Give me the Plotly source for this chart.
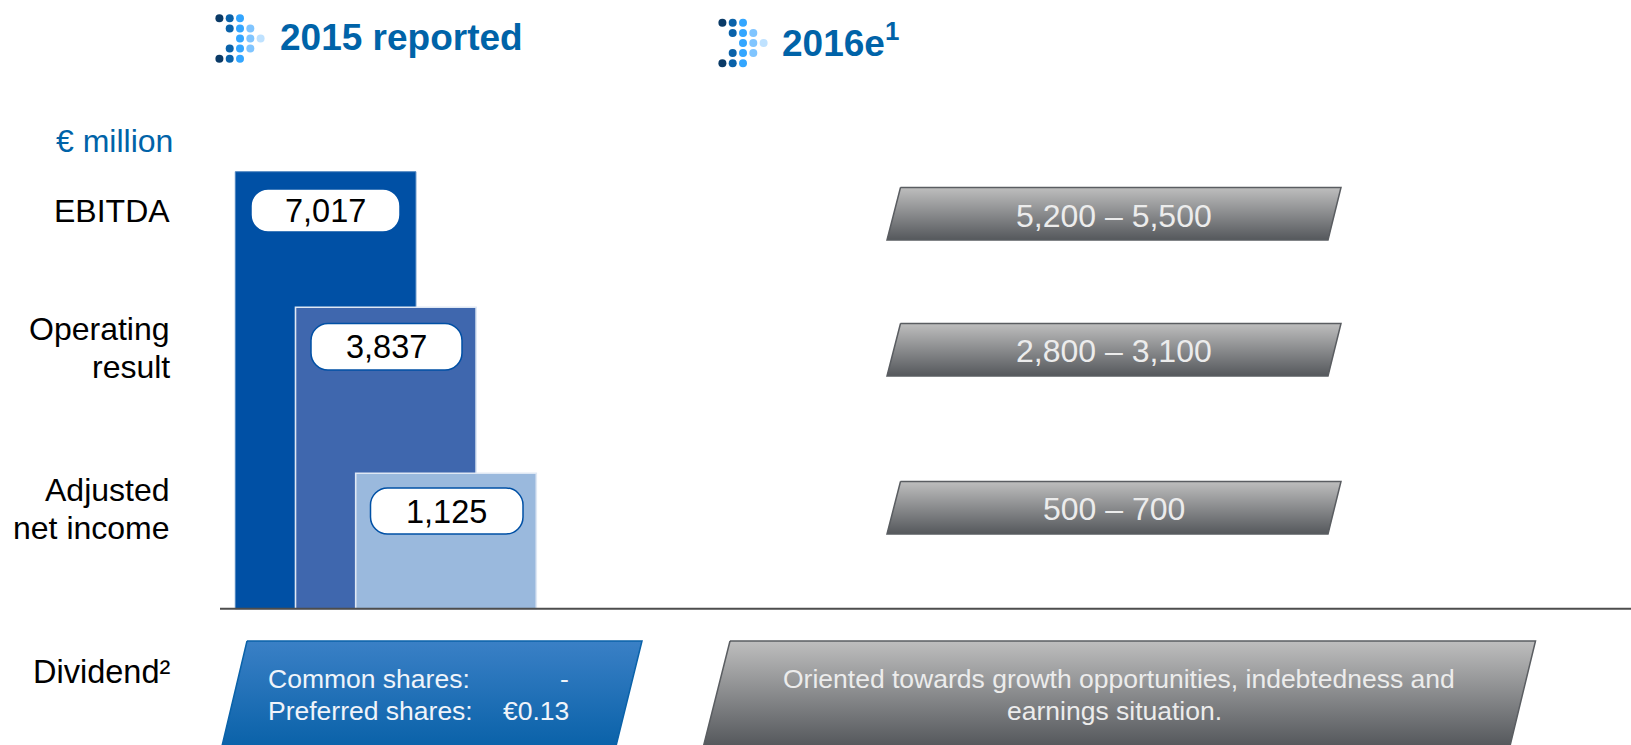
import plotly.graph_objects as go

W, H = 1631, 745

# ---- data ----
categories = ["EBITDA", "Operating result", "Adjusted net income"]
reported_labels = ["7,017", "3,837", "1,125"]
# drawn heights of the schematic (not to scale with the reported figures)
bar_heights = [437, 301.5, 135.5]
bar_colors = ["#0050a5", "#3f67ae", "#9ab9dd"]
outlook_labels = ["5,200 – 5,500", "2,800 – 3,100", "500 – 700"]
dividend_rows = ["Common shares:", "Preferred shares:"]
dividend_values = ["-", "€0.13"]
outlook_dividend = ["Oriented towards growth opportunities, indebtedness and", "earnings situation."]

BLUE = "#0063a8"
FONT = "Liberation Sans, Arial, sans-serif"

fig = go.Figure()

# bars on a category axis placed so they sit over the chart area
step = 60.2
base_px = 325.6
baseline_px = 608.7
fig.add_trace(go.Bar(
    x=categories[:1], y=bar_heights[:1], width=3.0, marker=dict(color=bar_colors[0], line=dict(color="#4f86c0", width=1)),
    xaxis="x2", yaxis="y2", showlegend=False, hoverinfo="skip"))
for i in (1, 2):
    fig.add_trace(go.Bar(
        x=[categories[i]], y=[bar_heights[i]], width=3.0,
        marker=dict(color=bar_colors[i], line=dict(color="#dfe8f4", width=1.6)),
        xaxis="x2", yaxis="y2", showlegend=False, hoverinfo="skip"))


def para(xs, ys, top, bottom, line):
    fig.add_trace(go.Scatter(
        x=xs + xs[:1], y=ys + ys[:1], mode="lines", fill="toself",
        line=dict(color=line, width=1.5),
        fillgradient=dict(type="vertical", colorscale=[[0, bottom], [1, top]]),
        showlegend=False, hoverinfo="skip"))


GREY_TOP, GREY_BOT, GREY_LINE = "#bebebe", "#55585c", "#5a5d61"
for top_y, bot_y in [(187.5, 240), (323.5, 376), (481.5, 534)]:
    para([900.5, 1341, 1328, 887], [top_y, top_y, bot_y, bot_y], GREY_TOP, GREY_BOT, GREY_LINE)
para([247, 642, 616, 222], [641, 641, 746, 746], "#3a80c6", "#0a62a9", "#0a62a9")
para([730, 1535.5, 1510, 703.5], [641, 641, 746, 746], GREY_TOP, GREY_BOT, GREY_LINE)

# header icons
icon_rows = [(-2, [-2, -1, 0], ["#0a3a66", "#0a62a9", "#33a6ff"]),
             (-1, [-1, 0, 1], ["#0a62a9", "#33a6ff", "#80c5ff"]),
             (0, [0, 1, 2], ["#33a6ff", "#80c5ff", "#bfe2ff"]),
             (1, [-1, 0, 1], ["#0a62a9", "#33a6ff", "#80c5ff"]),
             (2, [-2, -1, 0], ["#0a3a66", "#0a62a9", "#33a6ff"])]
for cx, cy in [(240, 38.5), (743, 43)]:
    xs, ys, cs = [], [], []
    for r, cols, colors in icon_rows:
        for c, col in zip(cols, colors):
            xs.append(cx + c * 10.3)
            ys.append(cy + r * 10.1)
            cs.append(col)
    fig.add_trace(go.Scatter(x=xs, y=ys, mode="markers",
                             marker=dict(size=8, color=cs, line=dict(width=0)),
                             showlegend=False, hoverinfo="skip"))


def px(x):
    return x / W


def py(y):
    return 1 - y / H


def pill(x0, y0, x1, y1, r, line):
    # four cubic corners approximating a circular arc
    k = r * 0.45
    path = (f"M {px(x0 + r)} {py(y0)} L {px(x1 - r)} {py(y0)} "
            f"C {px(x1 - k)} {py(y0)} {px(x1)} {py(y0 + k)} {px(x1)} {py(y0 + r)} L {px(x1)} {py(y1 - r)} "
            f"C {px(x1)} {py(y1 - k)} {px(x1 - k)} {py(y1)} {px(x1 - r)} {py(y1)} L {px(x0 + r)} {py(y1)} "
            f"C {px(x0 + k)} {py(y1)} {px(x0)} {py(y1 - k)} {px(x0)} {py(y1 - r)} L {px(x0)} {py(y0 + r)} "
            f"C {px(x0)} {py(y0 + k)} {px(x0 + k)} {py(y0)} {px(x0 + r)} {py(y0)} Z")
    return dict(type="path", xref="paper", yref="paper", path=path, fillcolor="white",
                line=dict(color=line, width=1.5), layer="above")


pills = [(251, 189, 400, 232), (311, 323.5, 462, 370), (370.5, 488, 523, 534)]
shapes = [pill(*p, 17, "#0050a5") for p in pills]
shapes.append(dict(type="line", xref="paper", yref="paper", x0=px(220), x1=1,
                   y0=py(baseline_px), y1=py(baseline_px),
                   line=dict(color="#4d4d4d", width=2), layer="above"))

annotations = []


def text(s, x, y, size, color="black", anchor="center", bold=False):
    annotations.append(dict(
        text=f"<b>{s}</b>" if bold else s, x=px(x), y=py(y), xref="paper", yref="paper",
        xanchor=anchor, yanchor="middle", showarrow=False, borderpad=0,
        font=dict(family=FONT, size=size, color=color)))


text("2015 reported", 279, 37.5, 37, BLUE, "left", True)
text("2016e<sup>1</sup>", 781, 40, 37, BLUE, "left", True)
text("€ million", 173.5, 141, 32, BLUE, "right")
text("EBITDA", 171, 211, 32, anchor="right")
text("Operating", 171, 329, 32, anchor="right")
text("result", 171, 367, 32, anchor="right")
text("Adjusted", 171, 490, 32, anchor="right")
text("net income", 171, 528, 32, anchor="right")
text("Dividend²", 171, 672, 32.5, anchor="right")

for (x0, y0, x1, y1), lab in zip(pills, reported_labels):
    text(lab, (x0 + x1) / 2, (y0 + y1) / 2 + 0.5, 32.5)
for (y, lab) in zip([216, 351, 509], outlook_labels):
    text(lab, 1113.5, y, 32, "#ececec")
for y, row, val in zip([679, 711], dividend_rows, dividend_values):
    text(row, 266.5, y, 26.5, "#f0f4fa", "left")
    text(val, 570, y, 26.5, "#f0f4fa", "right")
for y, line, cx in zip([679, 711], outlook_dividend, [1119, 1114]):
    text(line, cx, y, 26.5, "#ececec")

fig.update_layout(
    width=W, height=H, autosize=False,
    margin=dict(l=0, r=0, t=0, b=0), paper_bgcolor="white", plot_bgcolor="rgba(0,0,0,0)",
    barmode="overlay", showlegend=False,
    # decoration axes: one unit is one screen pixel
    xaxis=dict(range=[0, W], domain=[0, 1], visible=False, fixedrange=True),
    yaxis=dict(range=[H, 0], domain=[0, 1], visible=False, fixedrange=True),
    # bar axes: zero sits on the baseline
    xaxis2=dict(type="category", categoryorder="array", categoryarray=categories,
                range=[-base_px / step, (W - base_px) / step],
                overlaying="x", anchor="y2", visible=False, fixedrange=True),
    yaxis2=dict(range=[baseline_px - H, baseline_px],
                overlaying="y", anchor="x2", visible=False, fixedrange=True),
    shapes=shapes, annotations=annotations,
)

fig.write_html("out.html", config=dict(displayModeBar=False),
               post_script="document.body.style.margin='0';")
